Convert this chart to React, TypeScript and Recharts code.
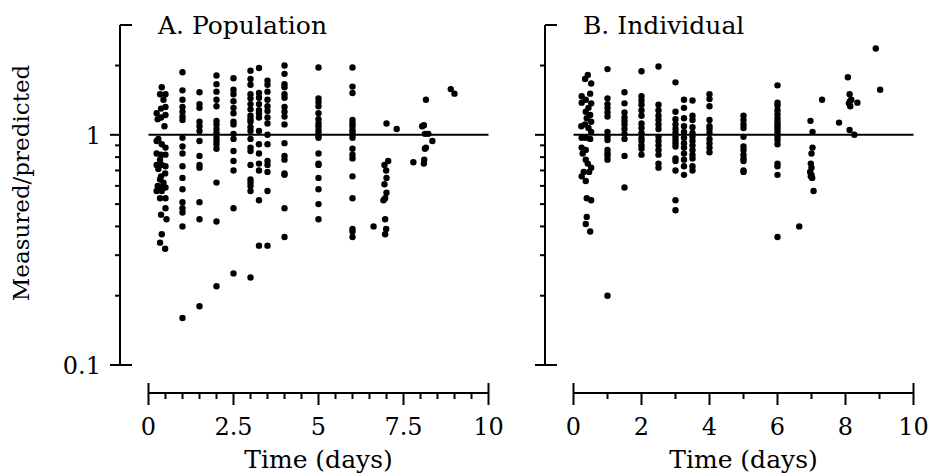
import { ScatterChart, Scatter, XAxis, YAxis, ReferenceLine, Label } from "recharts";

const FONT = '"DejaVu Serif", serif';

// x ticks (all tick marks) and the labelled ones
const popTicksX = [0, 0.5, 1, 1.5, 2, 2.5, 3, 3.5, 4, 4.5, 5, 5.5, 6, 6.5, 7, 7.5, 8, 8.5, 9, 9.5, 10];
const popLabelsX = [0, 2.5, 5, 7.5, 10];
const indTicksX = [0, 1, 2, 3, 4, 5, 6, 7, 8, 9, 10];
const indLabelsX = [0, 2, 4, 6, 8, 10];
const yTicks = [0.1, 0.2, 0.3, 0.4, 0.5, 0.6, 0.7, 0.8, 0.9, 1, 2, 3];
const yLabels = [0.1, 1];

// A. Population — measured/predicted per sampling time
const popEarly: [number, number][] = [
  [0.39, 1.61], [0.34, 1.5], [0.5, 1.5], [0.44, 1.42], [0.5, 1.32], [0.37, 1.3], [0.24, 1.24], [0.5, 1.22],
  [0.27, 1.17], [0.37, 1.19], [0.47, 1.09], [0.29, 0.96], [0.24, 0.94], [0.39, 0.91], [0.5, 0.88], [0.24, 0.83],
  [0.37, 0.82], [0.5, 0.82], [0.34, 0.78], [0.24, 0.74], [0.39, 0.74], [0.5, 0.73], [0.29, 0.71], [0.49, 0.68],
  [0.37, 0.66], [0.34, 0.64], [0.44, 0.62], [0.27, 0.6], [0.37, 0.59], [0.5, 0.59], [0.24, 0.57], [0.39, 0.57],
  [0.5, 0.53], [0.34, 0.53], [0.5, 0.48], [0.37, 0.45], [0.53, 0.43], [0.39, 0.37], [0.34, 0.34], [0.49, 0.32],
];
const popDay1 = [1.87, 1.56, 1.42, 1.32, 1.26, 1.2, 1.16, 0.97, 0.89, 0.83, 0.73, 0.65, 0.58, 0.51, 0.48, 0.46, 0.4, 0.16];
const popDay15 = [1.53, 1.36, 1.31, 1.14, 1.09, 1.04, 0.94, 0.81, 0.74, 0.72, 0.51, 0.43, 0.18];
const popDay2 = [1.81, 1.66, 1.54, 1.42, 1.33, 1.15, 1.11, 1.06, 1.02, 0.97, 0.94, 0.91, 0.87, 0.62, 0.42, 0.22];
const popDay25 = [1.76, 1.57, 1.5, 1.4, 1.31, 1.24, 1.14, 1.11, 1.01, 0.96, 0.85, 0.77, 0.7, 0.48, 0.25];
const popDay3 = [1.9, 1.75, 1.65, 1.5, 1.44, 1.36, 1.29, 1.21, 1.17, 1.14, 1.08, 1.04, 0.96, 0.88, 0.85, 0.74, 0.64, 0.62, 0.6, 0.57, 0.24];
const popDay325 = [1.95, 1.52, 1.45, 1.36, 1.28, 1.24, 1.19, 1.04, 0.91, 0.83, 0.75, 0.7, 0.52, 0.33];
const popDay35 = [1.72, 1.65, 1.54, 1.42, 1.33, 1.27, 1.19, 1.12, 1.0, 0.91, 0.77, 0.74, 0.69, 0.57, 0.33];
const popDay4 = [2.0, 1.84, 1.66, 1.61, 1.5, 1.45, 1.32, 1.26, 1.2, 1.11, 0.92, 0.81, 0.78, 0.68, 0.67, 0.48, 0.36];
const popDay5 = [1.96, 1.44, 1.39, 1.33, 1.24, 1.17, 1.12, 1.09, 1.05, 1.02, 0.99, 0.97, 0.83, 0.75, 0.74, 0.65, 0.58, 0.5, 0.43];
const popDay6 = [1.96, 1.62, 1.52, 1.16, 1.12, 1.09, 1.05, 1.03, 1.0, 0.97, 0.87, 0.82, 0.79, 0.66, 0.53, 0.39, 0.38, 0.36];
const popLate: [number, number][] = [
  [7.0, 1.12], [7.3, 1.06], [7.05, 0.77], [6.94, 0.74], [6.99, 0.7], [7.0, 0.65], [6.94, 0.61], [7.0, 0.56],
  [6.96, 0.53], [6.91, 0.52], [6.96, 0.43], [6.99, 0.39], [6.96, 0.37], [6.62, 0.4],
  [8.16, 1.42], [8.05, 1.09], [8.1, 1.1], [8.13, 1.01], [8.23, 1.01], [8.35, 0.94], [8.16, 0.88], [8.13, 0.87],
  [8.11, 0.78], [8.1, 0.75], [7.79, 0.76], [8.89, 1.58], [9.0, 1.51],
];

// B. Individual
const indEarly: [number, number][] = [
  [0.42, 1.82], [0.34, 1.75], [0.52, 1.67], [0.24, 1.47], [0.49, 1.51], [0.36, 1.42], [0.24, 1.38], [0.52, 1.37],
  [0.44, 1.31], [0.36, 1.26], [0.49, 1.22], [0.39, 1.18], [0.52, 1.14], [0.34, 1.11], [0.23, 1.09], [0.44, 1.07],
  [0.52, 1.03], [0.24, 0.97], [0.36, 0.97], [0.49, 0.96], [0.24, 0.88], [0.36, 0.86], [0.27, 0.83], [0.36, 0.78],
  [0.42, 0.75], [0.52, 0.72], [0.46, 0.69], [0.3, 0.69], [0.24, 0.66], [0.36, 0.63], [0.39, 0.53], [0.52, 0.52],
  [0.39, 0.44], [0.36, 0.41], [0.49, 0.38],
];
const indDay1 = [1.93, 1.44, 1.36, 1.31, 1.25, 1.2, 1.03, 0.98, 0.95, 0.86, 0.83, 0.81, 0.78, 0.2];
const indDay15 = [1.53, 1.37, 1.25, 1.19, 1.15, 1.11, 1.06, 1.01, 0.96, 0.81, 0.59];
const indDay2 = [1.89, 1.47, 1.41, 1.35, 1.28, 1.21, 1.12, 1.07, 1.02, 0.97, 0.94, 0.9, 0.87, 0.82];
const indDay25 = [1.98, 1.35, 1.28, 1.21, 1.16, 1.11, 1.06, 0.98, 0.94, 0.9, 0.86, 0.82, 0.75, 0.72];
const indDay3 = [1.69, 1.26, 1.17, 1.11, 1.06, 1.02, 0.98, 0.95, 0.92, 0.89, 0.79, 0.77, 0.7, 0.52, 0.47];
const indDay325 = [1.42, 1.31, 1.18, 1.09, 1.03, 0.97, 0.92, 0.88, 0.83, 0.78, 0.73, 0.67];
const indDay35 = [1.41, 1.21, 1.16, 1.08, 1.02, 0.98, 0.94, 0.9, 0.86, 0.82, 0.79, 0.73, 0.7];
const indDay4 = [1.5, 1.43, 1.33, 1.16, 1.09, 1.06, 1.02, 0.96, 0.92, 0.88, 0.84];
const indDay5 = [1.21, 1.16, 1.11, 1.07, 0.98, 0.89, 0.86, 0.82, 0.79, 0.77, 0.7, 0.69];
const indDay6 = [1.64, 1.38, 1.34, 1.28, 1.23, 1.18, 1.14, 1.11, 1.08, 1.05, 1.02, 0.98, 0.95, 0.91, 0.75, 0.73, 0.67, 0.36];
const indLate: [number, number][] = [
  [6.64, 0.4], [6.97, 1.15], [7.03, 1.03], [7.03, 0.88], [7.0, 0.83], [6.98, 0.75], [7.0, 0.72], [6.96, 0.69],
  [7.0, 0.67], [6.98, 0.66], [7.02, 0.65], [7.06, 0.57], [7.31, 1.42], [7.81, 1.13], [8.07, 1.78], [8.12, 1.5],
  [8.13, 1.4], [8.17, 1.42], [8.1, 1.37], [8.14, 1.33], [8.35, 1.38], [8.12, 1.05], [8.26, 1.0], [8.89, 2.37],
  [9.02, 1.57],
];

type Pt = { t: number; v: number };
const col = (t: number, vals: number[]): Pt[] => vals.map((v) => ({ t, v }));
const pairs = (p: [number, number][]): Pt[] => p.map(([t, v]) => ({ t, v }));

const popData: Pt[] = [
  ...pairs(popEarly), ...col(1, popDay1), ...col(1.5, popDay15), ...col(2, popDay2), ...col(2.5, popDay25),
  ...col(3, popDay3), ...col(3.25, popDay325), ...col(3.5, popDay35), ...col(4, popDay4), ...col(5, popDay5),
  ...col(6, popDay6), ...pairs(popLate),
];
const indData: Pt[] = [
  ...pairs(indEarly), ...col(1, indDay1), ...col(1.5, indDay15), ...col(2, indDay2), ...col(2.5, indDay25),
  ...col(3, indDay3), ...col(3.25, indDay325), ...col(3.5, indDay35), ...col(4, indDay4), ...col(5, indDay5),
  ...col(6, indDay6), ...pairs(indLate),
];

function makeXTick(labels: number[]) {
  // eslint-disable-next-line @typescript-eslint/no-explicit-any
  return (props: any) => {
    const { x, y, payload } = props;
    const val = payload.value;
    const isEnd = val === 0 || val === 10;
    const isMajor = labels.includes(val);
    return (
      <g>
        <line x1={x} x2={x} y1={isEnd ? y - 10 : y} y2={isMajor ? y + 12 : y + 6} stroke="#000" strokeWidth={2} />
        {isMajor && (
          <text x={x} y={y + 42} textAnchor="middle" fontFamily={FONT} fontSize={24} fill="#000">
            {String(val)}
          </text>
        )}
      </g>
    );
  };
}

function makeYTick(showLabels: boolean) {
  // eslint-disable-next-line @typescript-eslint/no-explicit-any
  return (props: any) => {
    const { x, y, payload } = props;
    const val = payload.value;
    const major = yLabels.includes(val);
    let x1 = major ? x - 10 : x - 5;
    let x2 = x;
    if (val === 0.1) x2 = x + 12;
    if (val === 3) {
      x1 = x;
      x2 = x + 12;
    }
    return (
      <g>
        <line x1={x1} x2={x2} y1={y} y2={y} stroke="#000" strokeWidth={2} />
        {showLabels && major && (
          <text x={x - 19} y={y + 9} textAnchor="end" fontFamily={FONT} fontSize={24} fill="#000">
            {String(val)}
          </text>
        )}
      </g>
    );
  };
}

// eslint-disable-next-line @typescript-eslint/no-explicit-any
const Dot = (props: any) => <circle cx={props.cx} cy={props.cy} r={3.2} fill="#000" />;

interface PanelProps {
  title: string;
  data: Pt[];
  ticksX: number[];
  labelsX: number[];
  yLabel?: string;
}

function Panel({ title, data, ticksX, labelsX, yLabel }: PanelProps) {
  return (
    <ScatterChart width={505} height={475} margin={{ top: 25, right: 16.5, bottom: 0, left: 60 }}>
      <XAxis
        type="number"
        dataKey="t"
        domain={[0, 10]}
        ticks={ticksX}
        interval={0}
        padding={{ left: 28.5, right: 0 }}
        height={82}
        tickSize={0}
        tickMargin={0}
        tickLine={false}
        tick={makeXTick(labelsX)}
        axisLine={{ stroke: "#000", strokeWidth: 2, strokeDasharray: "0 28.5 340 200" }}
      >
        <Label
          content={() => (
            <text x={318.5} y={468} textAnchor="middle" fontFamily={FONT} fontSize={25} fill="#000">
              Time (days)
            </text>
          )}
        />
      </XAxis>
      <YAxis
        type="number"
        dataKey="v"
        scale="log"
        domain={[0.1, 3]}
        allowDataOverflow
        ticks={yTicks}
        interval={0}
        padding={{ top: 0, bottom: 28 }}
        width={60}
        tickSize={0}
        tickMargin={0}
        tickLine={false}
        tick={makeYTick(!!yLabel)}
        axisLine={{ stroke: "#000", strokeWidth: 2, strokeDasharray: "340 200" }}
      >
        <Label
          content={() => (
            <g>
              <text x={158} y={34} fontFamily={FONT} fontSize={25} fill="#000">
                {title}
              </text>
              {yLabel && (
                <text
                  x={29}
                  y={183}
                  textAnchor="middle"
                  transform="rotate(-90 29 183)"
                  fontFamily={FONT}
                  fontSize={23}
                  fill="#000"
                >
                  {yLabel}
                </text>
              )}
            </g>
          )}
        />
      </YAxis>
      <ReferenceLine
        segment={[
          { x: 0, y: 1 },
          { x: 10, y: 1 },
        ]}
        stroke="#000"
        strokeWidth={2}
      />
      <Scatter data={data} fill="#000" shape={Dot} isAnimationActive={false} />
    </ScatterChart>
  );
}

export default function App() {
  return (
    <div
      style={{ position: "absolute", left: 0, top: 0, width: 931, height: 475, background: "#fff", overflow: "hidden" }}
    >
      <div style={{ position: "absolute", left: 0, top: 0 }}>
        <Panel title="A. Population" data={popData} ticksX={popTicksX} labelsX={popLabelsX} yLabel="Measured/predicted" />
      </div>
      <div style={{ position: "absolute", left: 425, top: 0 }}>
        <Panel title="B. Individual" data={indData} ticksX={indTicksX} labelsX={indLabelsX} />
      </div>
    </div>
  );
}
